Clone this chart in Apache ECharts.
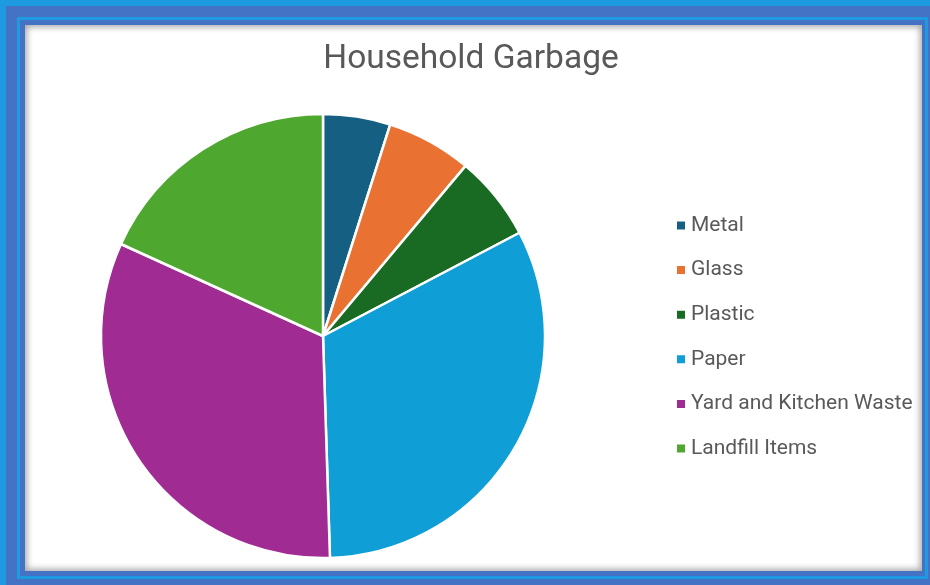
<!DOCTYPE html>
<html>
<head>
<meta charset="utf-8">
<script src="https://cdn.jsdelivr.net/npm/echarts@6/dist/echarts.min.js"></script>
<style>
html,body{margin:0;padding:0;width:930px;height:585px;overflow:hidden;background:#4472C4;}
.f{position:absolute;}
#chart{position:absolute;left:0;top:0;width:930px;height:585px;}
</style>
</head>
<body>
<div class="f" style="left:0;top:0;width:930px;height:6px;background:#1E9AE0"></div>
<div class="f" style="left:0;top:0;width:6px;height:585px;background:#1E9AE0"></div>
<div class="f" style="left:17px;top:17px;width:911px;height:562px;border:3px solid #1E9AE0;box-sizing:border-box"></div>
<div class="f" style="left:25px;top:25px;width:897px;height:546px;background:#fff;box-shadow:inset 0 0 6px 2px rgba(0,0,0,0.35)"></div>
<div id="chart"></div>
<script>
var categories = ['Metal', 'Glass', 'Plastic', 'Paper', 'Yard and Kitchen Waste', 'Landfill Items'];
var values = [4.9, 6.2, 6.2, 32.2, 32.3, 18.2];
var colors = ['#156082', '#E97132', '#196B24', '#0F9ED5', '#A02B93', '#4EA72E'];

var chart = echarts.init(document.getElementById('chart'), null, {renderer: 'canvas'});
chart.setOption({
  backgroundColor: 'transparent',
  animation: false,
  title: {
    text: 'Household Garbage',
    left: 466, top: 38, textAlign: 'center',
    textStyle: {fontFamily: 'Roboto', fontSize: 33.5, fontWeight: 'normal', color: '#595959'}
  },
  legend: {
    orient: 'vertical',
    left: 670, top: 210,
    itemWidth: 10, itemHeight: 10, itemGap: 23.6,
    icon: 'rect',
    textStyle: {fontFamily: 'Roboto', fontSize: 21, color: '#595959', lineHeight: 21},
    data: categories
  },
  series: [{
    type: 'pie',
    center: [323, 336],
    radius: 222,
    startAngle: 90,
    clockwise: true,
    label: {show: false},
    labelLine: {show: false},
    itemStyle: {borderColor: '#fff', borderWidth: 2.5},
    data: categories.map(function (c, i) {
      return {name: c, value: values[i], itemStyle: {color: colors[i]}};
    })
  }]
});
</script>
</body>
</html>
